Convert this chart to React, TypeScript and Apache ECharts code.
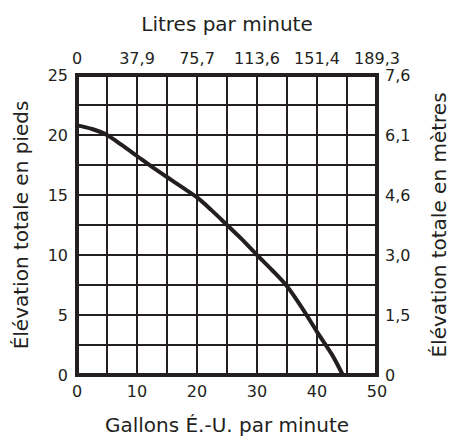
import React, { useEffect, useRef } from "react";
import * as echarts from "echarts";

const gallonsTicks = [0, 10, 20, 30, 40, 50];
const litresLabels = ["0", "37,9", "75,7", "113,6", "151,4", "189,3"];
const feetTicks = [0, 5, 10, 15, 20, 25];
const metresLabels = ["0", "1,5", "3,0", "4,6", "6,1", "7,6"];
const flowGpm = [0, 2.5, 5, 7.5, 10, 12.5, 15, 17.5, 20, 22.5, 25, 27.5, 30, 32.5, 35, 37.5, 40, 42.5, 44.3];
const headFt = [20.8, 20.5, 20, 19.15, 18.25, 17.35, 16.5, 15.65, 14.8, 13.7, 12.5, 11.3, 10, 8.75, 7.4, 5.6, 3.6, 1.7, 0];

const INK = "#231f20";
const FONT = "'DejaVu Sans', sans-serif";

export default function App() {
  const ref = useRef<HTMLDivElement>(null);
  useEffect(() => {
    const chart = echarts.init(ref.current!, null, { renderer: "svg" });
    const labelStyle = { color: INK, fontSize: 16, fontFamily: FONT };
    const nameStyle = { color: INK, fontSize: 20, fontFamily: FONT };
    chart.setOption({
      animation: false,
      backgroundColor: "#fff",
      grid: {
        left: 77, top: 75, width: 300, height: 300, containLabel: false, outerBoundsMode: "none",
        show: true, borderColor: INK, borderWidth: 4, backgroundColor: "transparent", z: 5,
      },
      xAxis: [
        {
          type: "value", position: "bottom", min: 0, max: 50, interval: 5,
          axisLine: { show: false }, axisTick: { show: false },
          splitLine: { show: true, lineStyle: { color: INK, width: 2 } },
          axisLabel: {
            ...labelStyle, margin: 8,
            formatter: (v: number) => (gallonsTicks.includes(v) ? String(v) : ""),
          },
          name: "Gallons É.-U. par minute", nameLocation: "middle", nameGap: 40,
          nameTextStyle: nameStyle,
        },
        {
          type: "value", position: "top", min: 0, max: 50, interval: 10,
          axisLine: { show: false }, axisTick: { show: false }, splitLine: { show: false },
          axisLabel: {
            ...labelStyle, margin: 9,
            formatter: (v: number) => litresLabels[gallonsTicks.indexOf(v)] ?? "",
          },
          name: "Litres par minute", nameLocation: "middle", nameGap: 41,
          nameTextStyle: nameStyle,
        },
      ],
      yAxis: [
        {
          type: "value", position: "left", min: 0, max: 25, interval: 2.5,
          axisLine: { show: false }, axisTick: { show: false },
          splitLine: { show: true, lineStyle: { color: INK, width: 2 } },
          axisLabel: {
            ...labelStyle, margin: 9,
            formatter: (v: number) => (feetTicks.includes(v) ? String(v) : ""),
          },
          name: "Élévation totale en pieds", nameLocation: "middle", nameGap: 40, nameRotate: 90,
          nameTextStyle: { ...nameStyle, padding: [0, 0, 6, 0] },
        },
        {
          type: "value", position: "right", min: 0, max: 25, interval: 5,
          axisLine: { show: false }, axisTick: { show: false }, splitLine: { show: false },
          axisLabel: {
            ...labelStyle, margin: 8,
            formatter: (v: number) => metresLabels[feetTicks.indexOf(v)] ?? "",
          },
          name: "Élévation totale en mètres", nameLocation: "middle", nameGap: 52, nameRotate: 90,
          nameTextStyle: nameStyle,
        },
      ],
      series: [
        {
          type: "line", xAxisIndex: 0, yAxisIndex: 0, smooth: 0.3, showSymbol: false,
          lineStyle: { color: INK, width: 4 }, z: 10,
          data: flowGpm.map((x, i) => [x, headFt[i]]),
        },
      ],
    });
    return () => chart.dispose();
  }, []);
  return <div ref={ref} style={{ position: "absolute", left: 0, top: 0, width: 451, height: 437 }} />;
}
